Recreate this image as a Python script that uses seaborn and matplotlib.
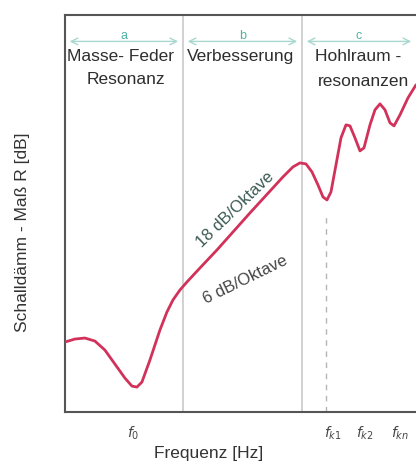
import numpy as np
import pandas as pd
import matplotlib
matplotlib.use("Agg")
import matplotlib.pyplot as plt
import seaborn as sns

# Frequenz (Oktaven, beliebige Einheit) und Schalldämm-Maß R (dB, relativ)
freq = [0.0, 1.0, 2.0, 3.0, 4.0, 5.0, 6.0, 6.7, 7.2, 7.7, 8.5, 9.5, 10.2, 10.8,
        11.5, 12.2, 13.5, 15.2, 18.5, 21.8, 22.8, 23.5, 24.1, 24.7, 25.3, 25.8,
        26.2, 26.6, 27.1, 27.6, 28.1, 28.5, 29.0, 29.5, 29.9, 30.5, 31.0, 31.5,
        32.0, 32.5, 32.9, 33.5, 34.3, 35.1]
r_db = [17.5, 18.25, 18.5, 17.75, 15.5, 12.0, 8.5, 6.5, 6.25, 7.5, 13.0, 20.5,
        25.0, 28.0, 30.5, 32.5, 36.0, 40.5, 49.75, 58.75, 61.25, 62.25, 62.0,
        60.0, 56.75, 53.75, 53.0, 55.0, 61.75, 68.5, 71.75, 71.5, 68.5, 65.25,
        66.0, 71.75, 75.5, 77.0, 75.5, 72.25, 71.5, 74.25, 78.5, 81.75]

# Bereiche a / b / c
zone_edges = [0.0, 11.8, 23.7, 35.1]
zone_letters = ["a", "b", "c"]

# Beschriftungen der Bereiche (Text, x, y)
zone_lines = [("Masse- Feder", 5.6, 88.75), ("Resonanz", 6.1, 83.0),
              ("Verbesserung", 17.6, 88.75),
              ("Hohlraum -", 29.3, 88.75), ("resonanzen", 29.9, 82.5)]

tick_pos = [6.8, 26.8, 30.0, 33.5]
tick_labels = ["$f_0$", "$f_{k1}$", "$f_{k2}$", "$f_{kn}$"]

df = pd.DataFrame({"Frequenz": freq, "R": r_db})

sns.set_theme(style="white")
plt.rcParams["font.family"] = ["Liberation Sans", "DejaVu Sans"]

fig = plt.figure(figsize=(4.16, 4.62), dpi=100)
ax = fig.add_axes([0.156, 0.108, 0.844, 0.86])

# Trennlinien zwischen den Bereichen
for x in zone_edges[1:-1]:
    ax.axvline(x, color="#c9c9c9", lw=1.2, zorder=1)
ax.plot([26.1, 26.1], [0, 49.0], color="#b5b5b5", lw=1.0, ls=(0, (4, 4)), zorder=1)

sns.lineplot(data=df, x="Frequenz", y="R", ax=ax, color="#d2325a", lw=2.0,
             sort=False, zorder=3)

ax.set_xlim(0, 35.1)
ax.set_ylim(0, 99.25)

# Pfeile und Buchstaben oben
for i, letter in enumerate(zone_letters):
    x0, x1 = zone_edges[i], zone_edges[i + 1]
    ax.annotate("", xy=(x1 - 0.2, 92.6), xytext=(x0 + 0.2, 92.6),
                arrowprops=dict(arrowstyle="<->", color="#a8d8d0", lw=1.0))
    ax.text((x0 + x1) / 2, 94.0, letter, color="#4fb3a2", fontsize=9,
            ha="center", va="center")

for txt, x, y in zone_lines:
    ax.text(x, y, txt, ha="center", va="center", fontsize=12.5, color="#2e2e2e")

ax.text(17.0, 50.5, "18 dB/Oktave", rotation=44, ha="center", va="center",
        fontsize=12, color="#3c5a54", rotation_mode="anchor")
ax.text(18.0, 33.0, "6 dB/Oktave", rotation=26, ha="center", va="center",
        fontsize=12, color="#444444", rotation_mode="anchor")

ax.set_xticks(tick_pos)
ax.set_xticklabels(tick_labels, fontsize=10, color="#444444")
ax.set_yticks([])
ax.tick_params(axis="x", length=0, pad=9)
ax.set_xlabel("Frequenz [Hz]", fontsize=12.5, color="#333333", va="center")
ax.xaxis.set_label_coords(0.41, -0.103)
ax.set_ylabel("Schalldämm - Maß R [dB]", fontsize=12.5, color="#333333", va="center")
ax.yaxis.set_label_coords(-0.12, 0.453)

for side in ["left", "bottom", "top"]:
    ax.spines[side].set_color("#555555")
    ax.spines[side].set_linewidth(1.5)
ax.spines["right"].set_visible(False)

fig.savefig("out.png", dpi=100)
